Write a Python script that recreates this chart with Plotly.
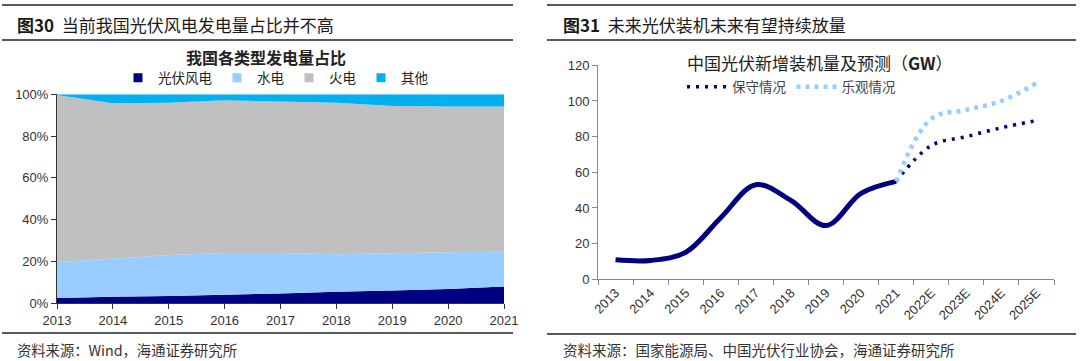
import plotly.graph_objects as go

# ---------------- Data ----------------
years_left = ["2013", "2014", "2015", "2016", "2017", "2018", "2019", "2020", "2021"]
share_wind_solar = [2.4, 3.0, 3.3, 4.0, 4.6, 5.4, 6.0, 6.7, 7.9]
share_hydro = [17.3, 18.3, 19.7, 20.0, 19.4, 18.0, 17.8, 17.6, 16.7]
share_thermal = [80.0, 74.4, 72.9, 73.1, 72.5, 72.6, 70.6, 69.8, 69.5]
share_other = [0.3, 4.3, 4.1, 2.9, 3.5, 4.0, 5.6, 5.9, 5.9]

cats_right = ["2013", "2014", "2015", "2016", "2017", "2018", "2019", "2020", "2021",
              "2022E", "2023E", "2024E", "2025E"]
hist_years = ["2013", "2014", "2015", "2016", "2017", "2018", "2019", "2020", "2021"]
hist_values = [10.95, 10.6, 15.13, 34.54, 53.06, 44.26, 30.11, 48.2, 54.88]
fc_years = ["2021", "2022E", "2023E", "2024E", "2025E"]
fc_conservative = [54.88, 75, 80, 85, 89]
fc_optimistic = [54.88, 90, 95, 100, 110]

CJK = "Noto Sans CJK SC"
LAT = "Liberation Sans"
W, H = 1080, 361

def px(x):
    return x / W

def py(y):
    return 1 - y / H

fig = go.Figure()

# ---------------- Left chart: stacked area ----------------
left_series = [
    ("光伏风电", share_wind_solar, "#000080"),
    ("水电", share_hydro, "#99CCFF"),
    ("火电", share_thermal, "#C0C0C0"),
    ("其他", share_other, "#00B0F0"),
]
for name, vals, col in left_series:
    fig.add_trace(go.Scatter(
        x=years_left, y=vals, name=name, stackgroup="one",
        mode="none", fillcolor=col, line=dict(width=0),
        xaxis="x", yaxis="y", showlegend=False, hoverinfo="x+y+name",
    ))
    fig.add_trace(go.Scatter(
        x=[None], y=[None], name=name, mode="markers",
        marker=dict(symbol="square", size=9, color=col),
        xaxis="x", yaxis="y", legend="legend", showlegend=True,
    ))

# ---------------- Right chart: lines ----------------
fig.add_trace(go.Scatter(
    x=hist_years, y=hist_values, mode="lines", name="历史",
    line=dict(color="#000080", width=5, shape="spline", smoothing=1.0),
    xaxis="x2", yaxis="y2", showlegend=False,
))
fig.add_trace(go.Scatter(
    x=fc_years, y=fc_conservative, mode="lines", name="保守情况",
    line=dict(color="#000080", width=3.5, dash="3px,6px", shape="spline", smoothing=1.0),
    xaxis="x2", yaxis="y2", legend="legend2", showlegend=True,
))
fig.add_trace(go.Scatter(
    x=fc_years, y=fc_optimistic, mode="lines", name="乐观情况",
    line=dict(color="#99CCFF", width=4.5, dash="4px,5px", shape="spline", smoothing=1.0),
    xaxis="x2", yaxis="y2", legend="legend2", showlegend=True,
))

tickfont = dict(family=LAT, size=13, color="#333333")

fig.update_layout(
    template="none",
    width=W, height=H,
    margin=dict(l=0, r=0, t=0, b=0, pad=0),
    paper_bgcolor="white", plot_bgcolor="white",
    xaxis=dict(
        domain=[px(57), px(504)], anchor="y", type="category", automargin=False,
        range=[0, 8], showgrid=False, zeroline=False,
        showline=True, linecolor="#333333", linewidth=1,
        ticks="outside", ticklen=5, tickcolor="#333333",
        tickfont=tickfont,
    ),
    yaxis=dict(
        domain=[py(303), py(94.3)], anchor="x", automargin=False,
        range=[0, 100], dtick=20, ticksuffix="%",
        showgrid=False, zeroline=False,
        showline=True, linecolor="#333333", linewidth=1,
        ticks="outside", ticklen=5, tickcolor="#333333",
        tickfont=tickfont,
    ),
    xaxis2=dict(
        domain=[px(598), px(1054)], anchor="y2", type="category", automargin=False,
        categoryorder="array", categoryarray=cats_right,
        range=[-0.5, 12.5], tickson="boundaries",
        showgrid=False, zeroline=False,
        showline=True, linecolor="#888888", linewidth=1,
        ticks="outside", ticklen=5, tickcolor="#888888",
        tickangle=-45, tickfont=tickfont,
    ),
    yaxis2=dict(
        domain=[py(279.3), py(65.3)], anchor="x2", automargin=False,
        range=[0, 120], dtick=20,
        showgrid=False, zeroline=False,
        showline=True, linecolor="#888888", linewidth=1,
        ticks="outside", ticklen=5, tickcolor="#888888",
        tickfont=tickfont,
    ),
    legend=dict(
        orientation="h", x=px(118), y=py(78), xanchor="left", yanchor="middle",
        font=dict(family=CJK, size=13.5, color="#222222"), traceorder="normal",
        bgcolor="rgba(0,0,0,0)", itemwidth=30, tracegroupgap=0,
    ),
    legend2=dict(
        orientation="h", x=px(682), y=py(87), xanchor="left", yanchor="middle",
        font=dict(family=CJK, size=13.5, color="#444444"), traceorder="normal",
        bgcolor="rgba(0,0,0,0)", itemwidth=40,
    ),
)

# ---------------- Titles / headers / sources ----------------
ann = [
    dict(text="<b>图30</b>  当前我国光伏风电发电量占比并不高", x=px(15), y=py(24),
         font=dict(family=CJK, size=17, color="#1a1a1a")),
    dict(text="<b>图31</b>  未来光伏装机未来有望持续放量", x=px(561), y=py(24),
         font=dict(family=CJK, size=17, color="#1a1a1a")),
    dict(text="资料来源：Wind，海通证券研究所", x=px(15), y=py(349),
         font=dict(family=CJK, size=14.3, color="#333333")),
    dict(text="资料来源：国家能源局、中国光伏行业协会，海通证券研究所", x=px(561), y=py(349),
         font=dict(family=CJK, size=14.5, color="#333333")),
]
for a in ann:
    fig.add_annotation(xref="paper", yref="paper", xanchor="left", yanchor="middle",
                       showarrow=False, **a)

fig.add_annotation(text="<b>我国各类型发电量占比</b>", xref="paper", yref="paper",
                   x=px(266), y=py(57), xanchor="center", yanchor="middle", showarrow=False,
                   font=dict(family=CJK, size=16, color="#222222"))
fig.add_annotation(text="中国光伏新增装机量及预测（<b>GW</b>）", xref="paper", yref="paper",
                   x=px(820), y=py(62), xanchor="center", yanchor="middle", showarrow=False,
                   font=dict(family=CJK, size=17, color="#222222"))

# horizontal rules
for (x0, x1, y) in [(2, 513, 5), (2, 513, 40), (2, 513, 333),
                    (547, 1076, 5), (547, 1076, 40), (547, 1076, 334)]:
    fig.add_shape(type="line", xref="paper", yref="paper",
                  x0=px(x0), x1=px(x1), y0=py(y), y1=py(y),
                  line=dict(color="#222222", width=1.5))

fig.write_html("out.html",
               config={"displayModeBar": False},
               post_script="document.body.style.margin='0';document.body.style.overflow='hidden';")
